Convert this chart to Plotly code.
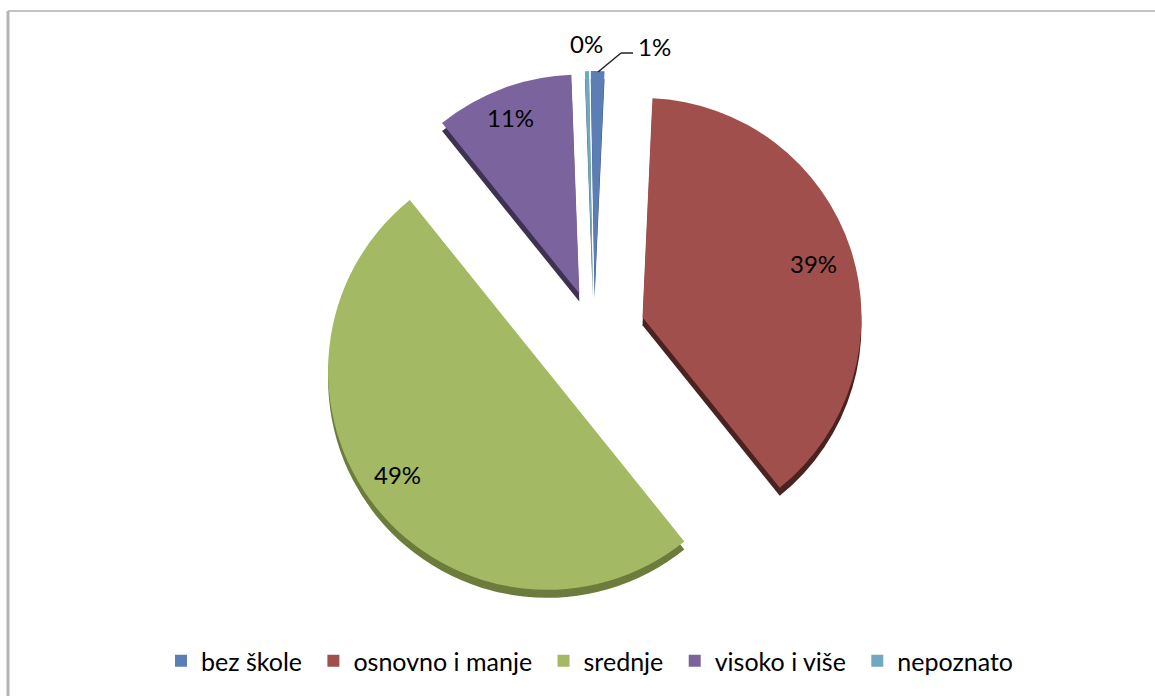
import plotly.graph_objects as go

W, H = 1155, 696
categories = ["bez škole", "osnovno i manje", "srednje", "visoko i više", "nepoznato"]
values = [1.0, 38.5, 50.0, 10.2, 0.3]
value_labels = ["1%", "39%", "49%", "11%", "0%"]
colors = ["#5b7fb5", "#a14f4d", "#a3b963", "#7b649e", "#6fa8bf"]
edge_colors = ["#3a5075", "#4a2220", "#6b7c3c", "#3e3152", "#41697a"]
pulls = [0.196, 0.233, 0.275, 0.192, 0.196]
label_px = [(654, 46), (813, 263), (397, 474), (510, 117), (586, 44)]

CX, CY, R = 594, 333, 219
half = R * (1 + max(pulls))


def domain(dx=0, dy=0):
    return dict(
        x=[(CX + dx - half) / W, (CX + dx + half) / W],
        y=[1 - (CY + dy + half) / H, 1 - (CY + dy - half) / H],
    )


legend_labels = [c + "\u00a0" for c in categories]
common = dict(labels=legend_labels, values=values, pull=pulls, sort=False,
              direction="clockwise", rotation=-1, textinfo="none", hoverinfo="label+percent")

fig = go.Figure()
fig.add_trace(go.Pie(**common, domain=domain(0, 8), showlegend=False,
                     marker=dict(colors=edge_colors, line=dict(width=0))))
fig.add_trace(go.Pie(**common, domain=domain(), showlegend=True,
                     marker=dict(colors=colors, line=dict(width=0))))

annotations = [
    dict(x=x / W, y=1 - y / H, xref="paper", yref="paper", text=t, showarrow=False,
         font=dict(family="Lato", size=24, color="#000000"), xanchor="center", yanchor="middle")
    for t, (x, y) in zip(value_labels, label_px)
]

frame = dict(type="line", xref="paper", yref="paper")
shapes = [
    dict(**frame, x0=8 / W, x1=1, y0=1 - 11 / H, y1=1 - 11 / H, line=dict(color="#c4c4c4", width=2)),
    dict(**frame, x0=8 / W, x1=8 / W, y0=0, y1=1 - 11 / H, line=dict(color="#b5b5b5", width=3)),
    dict(**frame, x0=598 / W, x1=621 / W, y0=1 - 72 / H, y1=1 - 53 / H, line=dict(color="#222222", width=1.5)),
    dict(**frame, x0=621 / W, x1=633 / W, y0=1 - 53 / H, y1=1 - 53 / H, line=dict(color="#222222", width=1.5)),
]

fig.update_layout(
    width=W, height=H, autosize=False,
    margin=dict(l=0, r=0, t=0, b=0),
    paper_bgcolor="#ffffff",
    font=dict(family="Lato", size=25, color="#000000"),
    legend=dict(orientation="h", x=593 / W, xanchor="center", y=1 - 661 / H, yanchor="middle",
                traceorder="normal", itemwidth=30, font=dict(family="Lato", size=25)),
    annotations=annotations,
    shapes=shapes,
)
fig.write_html("out.html", config=dict(displayModeBar=False),
               post_script="document.body.style.margin='0';")
